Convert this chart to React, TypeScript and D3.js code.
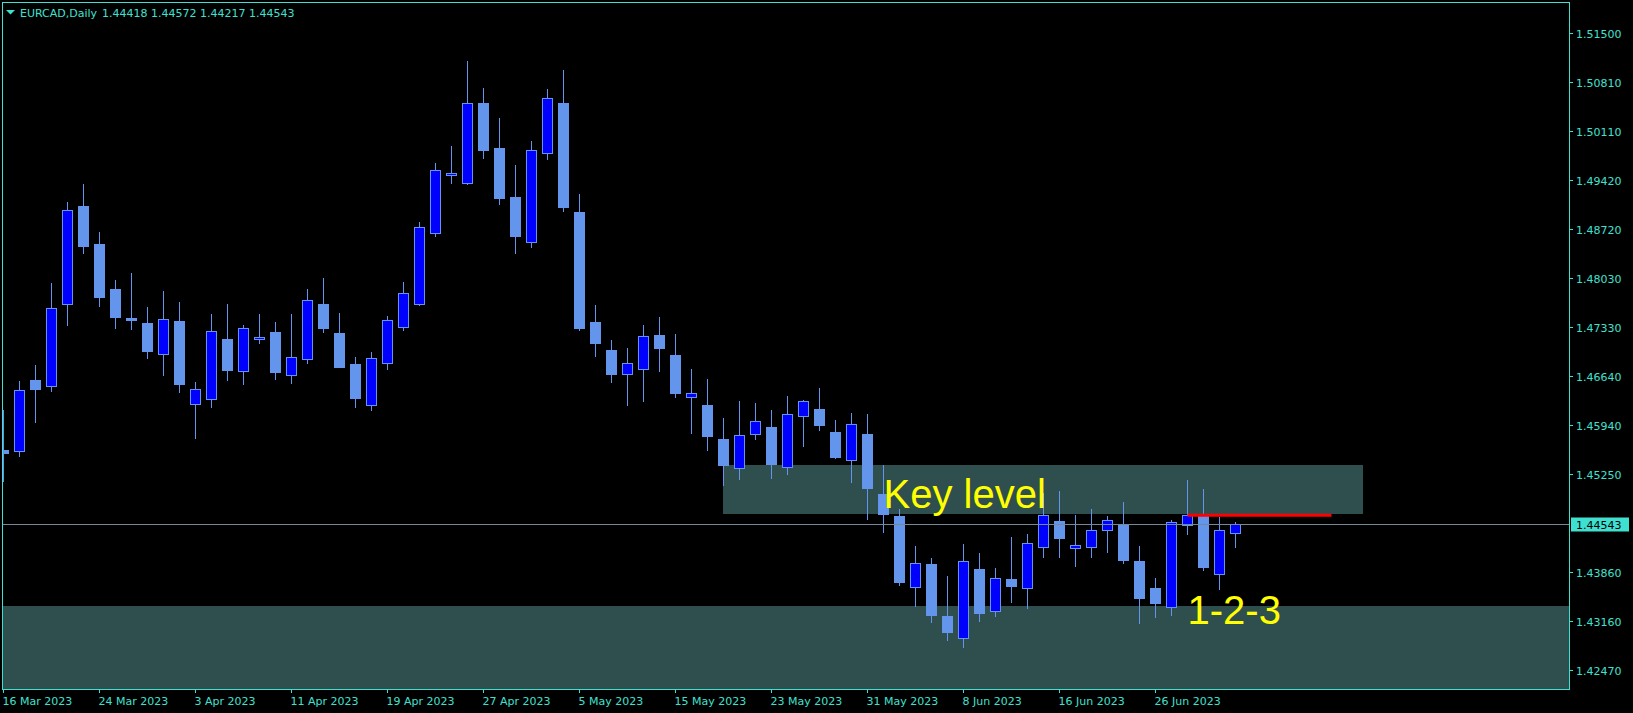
import React from "react";
import * as d3 from "d3";

const symbolTitle = "EURCAD,Daily";
const firstDay = "2023-03-16";

const opens = [
  1.45590, 1.45572, 1.46583, 1.46502, 1.47656, 1.49050, 1.48512, 1.47873, 1.47462, 1.47391,
  1.46947, 1.47419, 1.46238, 1.46309, 1.47164, 1.46706, 1.47160, 1.47263, 1.46649, 1.46876,
  1.47661, 1.47249, 1.46810, 1.46224, 1.46820, 1.47330, 1.47656, 1.48663, 1.49486, 1.49372,
  1.50507, 1.49873, 1.49178, 1.48536, 1.49798, 1.50511, 1.48965, 1.47405, 1.47008, 1.46664,
  1.46743, 1.47221, 1.46937, 1.46337, 1.46228, 1.45746, 1.45330, 1.45813, 1.45916, 1.45342,
  1.46068, 1.46171, 1.45845, 1.45455, 1.45817, 1.44966, 1.44654, 1.43640, 1.43973, 1.43236,
  1.42919, 1.43902, 1.43302, 1.43760, 1.43637, 1.44210, 1.44579, 1.44196, 1.44210, 1.44451,
  1.44531, 1.44016, 1.43633, 1.43359, 1.44519, 1.44654, 1.43838, 1.44418,
];
const highs = [
  1.46157, 1.46569, 1.46795, 1.47958, 1.49107, 1.49362, 1.48682, 1.48001, 1.48100, 1.47618,
  1.47845, 1.47689, 1.46554, 1.47519, 1.47661, 1.47363, 1.47519, 1.47405, 1.47519, 1.47873,
  1.48029, 1.47533, 1.46909, 1.46980, 1.47490, 1.47973, 1.48824, 1.49660, 1.49901, 1.51107,
  1.50724, 1.50299, 1.49632, 1.49972, 1.50710, 1.50979, 1.49221, 1.47646, 1.47150, 1.47037,
  1.47363, 1.47476, 1.47235, 1.46739, 1.46597, 1.46044, 1.46285, 1.46257, 1.46157, 1.46356,
  1.46299, 1.46469, 1.46015, 1.46115, 1.46101, 1.45377, 1.44749, 1.44228, 1.44058, 1.43803,
  1.44257, 1.44129, 1.43916, 1.44356, 1.44403, 1.44980, 1.45008, 1.44664, 1.44753, 1.44658,
  1.44852, 1.44228, 1.43775, 1.44597, 1.45164, 1.45037, 1.44640, 1.44572,
];
const lows = [
  1.45155, 1.45509, 1.45991, 1.46431, 1.47367, 1.48388, 1.47636, 1.47324, 1.47310, 1.46899,
  1.46658, 1.46417, 1.45764, 1.46204, 1.46587, 1.46530, 1.47112, 1.46601, 1.46544, 1.46828,
  1.47268, 1.46767, 1.46204, 1.46162, 1.46743, 1.47296, 1.47646, 1.48629, 1.49381, 1.49362,
  1.49735, 1.49083, 1.48388, 1.48473, 1.49721, 1.48984, 1.47296, 1.46927, 1.46559, 1.46232,
  1.46289, 1.46715, 1.46346, 1.45835, 1.45594, 1.45094, 1.45183, 1.45750, 1.45197, 1.45254,
  1.45651, 1.45878, 1.45481, 1.45140, 1.44616, 1.44431, 1.43680, 1.43378, 1.43155, 1.42895,
  1.42800, 1.43169, 1.43240, 1.43438, 1.43353, 1.44077, 1.44077, 1.43949, 1.44077, 1.44148,
  1.43992, 1.43141, 1.43226, 1.43250, 1.44403, 1.43892, 1.43623, 1.44217,
];
const closes = [
  1.45552, 1.46437, 1.46459, 1.47600, 1.48989, 1.48487, 1.47764, 1.47480, 1.47438, 1.46998,
  1.47444, 1.46530, 1.46451, 1.47273, 1.46729, 1.47316, 1.47188, 1.46700, 1.46905, 1.47713,
  1.47324, 1.46771, 1.46332, 1.46891, 1.47429, 1.47812, 1.48748, 1.49557, 1.49514, 1.50507,
  1.49849, 1.49168, 1.48629, 1.49840, 1.50578, 1.49041, 1.47324, 1.47107, 1.46672, 1.46820,
  1.47207, 1.47041, 1.46403, 1.46394, 1.45793, 1.45381, 1.45798, 1.45997, 1.45396, 1.46096,
  1.46281, 1.45949, 1.45491, 1.45959, 1.45055, 1.44687, 1.43722, 1.43987, 1.43254, 1.43013,
  1.44011, 1.43282, 1.43770, 1.43665, 1.44267, 1.44664, 1.44346, 1.44238, 1.44451, 1.44593,
  1.44030, 1.43495, 1.43424, 1.44565, 1.44664, 1.43935, 1.44451, 1.44543,
];

const timeTickLabels = [
  "16 Mar 2023", "24 Mar 2023", "3 Apr 2023", "11 Apr 2023", "19 Apr 2023", "27 Apr 2023",
  "5 May 2023", "15 May 2023", "23 May 2023", "31 May 2023", "8 Jun 2023", "16 Jun 2023", "26 Jun 2023",
];
const priceTicks = [1.515, 1.5081, 1.5011, 1.4942, 1.4872, 1.4803, 1.4733, 1.4664, 1.4594, 1.4525, 1.4386, 1.4316, 1.4247];

const keyZoneStart = "2023-05-18";
const keyZoneEnd = "2023-07-13";
const keyZoneTop = 1.45384;
const keyZoneBottom = 1.44687;
const supportZoneTop = 1.43378;
const resistLineStart = "2023-06-28";
const resistLineEnd = "2023-07-11";
const resistLinePrice = 1.44664;
const keyLabel = "Key level";
const keyLabelDate = "2023-06-01";
const keyLabelPrice = 1.44767;
const patternLabel = "1-2-3";
const patternLabelDate = "2023-06-28";
const patternLabelPrice = 1.43126;

const W = 1633;
const H = 713;
const plotL = 2;
const plotR = 1569;
const plotT = 2;
const plotB = 689;
const FG = "#40E0D0";
const BAR = "#6495ED";
const BULL = "#0000FF";
const ZONE = "#2F4F4F";
const FONT = "'DejaVu Sans', sans-serif";

function tradingDays(start: string, n: number): Date[] {
  const out: Date[] = [];
  const d = new Date(start + "T00:00:00");
  while (out.length < n) {
    const wd = d.getDay();
    if (wd !== 0 && wd !== 6) out.push(new Date(d));
    d.setDate(d.getDate() + 1);
  }
  return out;
}

export default function App() {
  const days = tradingDays(firstDay, opens.length + 30);
  const keyOf = d3.timeFormat("%Y-%m-%d");
  const labelOf = d3.timeFormat("%-d %b %Y");
  const idxOf = (s: string) => days.findIndex((d) => keyOf(d) === s);

  const x = d3.scaleLinear().domain([0, 1]).range([3.5, 19.5]);
  const y = d3.scaleLinear().domain([1.422, 1.51944]).range([plotB, plotT]);
  const snap = (v: number) => Math.round(v) + 0.5;
  const fmt = (v: number) => v.toFixed(5);
  const last = closes[closes.length - 1];
  const lastY = snap(y(last));

  const tickIdx = timeTickLabels.map((l) => days.findIndex((d) => labelOf(d) === l));

  return (
    <svg width={W} height={H} style={{ position: "absolute", left: 0, top: 0, display: "block" }}>
      <defs>
        <clipPath id="plot">
          <rect x={plotL + 1} y={plotT + 1} width={plotR - plotL - 1} height={plotB - plotT - 1} />
        </clipPath>
      </defs>
      <rect x={0} y={0} width={W} height={H} fill="#000" />
      <g clipPath="url(#plot)">
        <rect x={plotL} y={snap(y(supportZoneTop)) - 0.5} width={plotR - plotL} height={plotB - y(supportZoneTop) + 1} fill={ZONE} />
        <rect
          x={x(idxOf(keyZoneStart)) - 0.5}
          y={Math.round(y(keyZoneTop))}
          width={x(idxOf(keyZoneEnd)) - x(idxOf(keyZoneStart))}
          height={Math.round(y(keyZoneBottom)) - Math.round(y(keyZoneTop))}
          fill={ZONE}
        />
        {opens.map((o, i) => {
          const c = closes[i];
          const cx = x(i);
          const bull = c >= o;
          const t = snap(y(Math.max(o, c)));
          const b = snap(y(Math.min(o, c)));
          return (
            <g key={i}>
              <line x1={cx} x2={cx} y1={Math.round(y(highs[i]))} y2={Math.round(y(lows[i])) + 1} stroke={BAR} strokeWidth={1} />
              <rect x={cx - 5} y={t} width={10} height={Math.max(b - t, 1)} fill={bull ? BULL : BAR} stroke={BAR} strokeWidth={1} />
            </g>
          );
        })}
        <line x1={plotL} x2={plotR} y1={lastY} y2={lastY} stroke="#778899" strokeWidth={1} />
        <line
          x1={x(idxOf(resistLineStart))}
          x2={x(idxOf(resistLineEnd))}
          y1={y(resistLinePrice)}
          y2={y(resistLinePrice)}
          stroke="#FF0000"
          strokeWidth={3}
        />
        <text x={x(idxOf(keyLabelDate))} y={y(keyLabelPrice)} fill="#FFFF00" fontFamily="'Liberation Sans', Arial, sans-serif" fontSize={40}>
          {keyLabel}
        </text>
        <text x={x(idxOf(patternLabelDate))} y={y(patternLabelPrice)} fill="#FFFF00" fontFamily="'Liberation Sans', Arial, sans-serif" fontSize={40}>
          {patternLabel}
        </text>
      </g>
      <rect x={plotL + 0.5} y={plotT + 0.5} width={plotR - plotL} height={plotB - plotT} fill="none" stroke={FG} strokeWidth={1} />
      {/* header */}
      <path d="M6,10 L15,10 L10.5,14.5 Z" fill={FG} />
      <text x={20} y={17} fill={FG} fontFamily={FONT} fontSize={11}>{symbolTitle}</text>
      <text x={102} y={17} fill={FG} fontFamily={FONT} fontSize={11}>
        {[opens[opens.length - 1], highs[highs.length - 1], lows[lows.length - 1], last].map(fmt).join(" ")}
      </text>
      {/* price axis */}
      {priceTicks.map((p) => {
        const py = snap(y(p));
        return (
          <g key={p}>
            <line x1={plotR} x2={plotR + 4} y1={py} y2={py} stroke={FG} strokeWidth={1} />
            <text x={1576} y={py + 4} fill={FG} fontFamily={FONT} fontSize={11}>{fmt(p)}</text>
          </g>
        );
      })}
      <rect x={1571} y={lastY - 7} width={58} height={14} fill={FG} />
      <text x={1576} y={lastY + 4} fill="#000" fontFamily={FONT} fontSize={11}>{fmt(last)}</text>
      {/* time axis */}
      {tickIdx.map((ti, k) => (
        <g key={k}>
          <line x1={x(ti) - 0.5 + 0.5} x2={x(ti)} y1={plotB} y2={plotB + 4} stroke={FG} strokeWidth={1} />
          <text x={x(ti) - 1} y={705} fill={FG} fontFamily={FONT} fontSize={11}>{timeTickLabels[k]}</text>
        </g>
      ))}
    </svg>
  );
}
